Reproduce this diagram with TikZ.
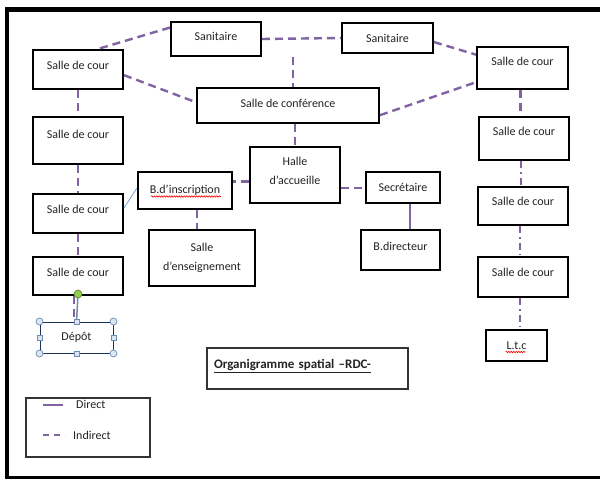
\documentclass[tikz,border=0pt]{standalone}
\usepackage{fontspec}
\setmainfont{Carlito}
\usetikzlibrary{decorations.pathmorphing}
\begin{document}
\begin{tikzpicture}[x=1pt,y=-1pt,
  salle/.style={draw=black, line width=2pt, inner sep=0pt, text=texte, font=\fontsize{12}{13}\selectfont},
  cadre/.style={draw=black!80, line width=1.2pt, inner sep=0pt, text=texte, font=\fontsize{12}{13}\selectfont},
  deux/.style={align=center, font=\fontsize{12}{19.5}\selectfont},
  indirect/.style={draw=violet, line width=2.4pt, dash pattern=on 8pt off 5pt},
  indirectpt/.style={draw=violet, line width=2pt, dash pattern=on 7pt off 4pt on 1.5pt off 4pt},
  direct/.style={draw=violet, line width=2pt},
  squiggle/.style={draw=red, line width=0.6pt, decorate, decoration={snake, amplitude=0.7pt, segment length=2.5pt}},
  rond/.style={draw=poignee, fill=poigneefond, line width=0.7pt},
  carre/.style={draw=poignee, fill=poigneefond, line width=0.7pt, minimum size=5pt, inner sep=0pt}]
\definecolor{violet}{RGB}{128,100,162}
\definecolor{texte}{RGB}{35,35,35}
\definecolor{lien}{RGB}{120,160,210}
\definecolor{poignee}{RGB}{110,140,180}
\definecolor{poigneefond}{RGB}{220,230,242}
\definecolor{marine}{RGB}{30,50,90}
\definecolor{vert}{RGB}{146,208,80}
\useasboundingbox (0,0) rectangle (600,479);
\fill[white] (0,0) rectangle (600,479);
% cadre ouvert a droite
\draw[line width=4.5pt, line cap=rect] (600,9.5) -- (7,9.5) -- (7,478.5) -- (600,478.5);
% colonne gauche
\node[salle, minimum width=90pt, minimum height=39pt, text depth=9pt] (scL1) at (78,69.5) {Salle de cour};
\node[salle, minimum width=90pt, minimum height=47pt, text depth=13pt] (scL2) at (78,140.5) {Salle de cour};
\node[salle, minimum width=90pt, minimum height=39pt, text depth=9pt] (scL3) at (78,213.5) {Salle de cour};
\node[salle, minimum width=90pt, minimum height=38pt, text depth=8pt] (scL4) at (78,276) {Salle de cour};
\node[salle, draw=marine, line width=1pt, minimum width=73pt, minimum height=31pt] (depot) at (76.5,337.5) {Dépôt};
% centre
\node[salle, minimum width=90pt, minimum height=34pt, text depth=6pt] (san1) at (216,39) {Sanitaire};
\node[salle, minimum width=91pt, minimum height=30pt] (san2) at (387.5,38) {Sanitaire};
\node[salle, minimum width=182pt, minimum height=35pt, text depth=5pt] (conf) at (288,105.5) {Salle de conférence};
\node[salle, deux, minimum width=90pt, minimum height=56pt, text depth=8pt] (halle) at (295,175) {Halle\\d’accueille};
\node[salle, minimum width=94pt, minimum height=37pt] (binsc) at (185,190.5) {B.d’inscription};
\node[salle, deux, minimum width=106pt, minimum height=56pt] (ens) at (202,258) {Salle\\d’enseignement};
\node[salle, minimum width=74pt, minimum height=31pt] (sec) at (403,187.5) {Secrétaire};
\node[salle, minimum width=79pt, minimum height=40pt, text depth=8pt] (bdir) at (400.5,250) {B.directeur};
% colonne droite
\node[salle, minimum width=91pt, minimum height=42pt, text depth=14pt] (scR1) at (522.5,68) {Salle de cour};
\node[salle, minimum width=90pt, minimum height=43pt, text depth=15pt] (scR2) at (524,138.5) {Salle de cour};
\node[salle, minimum width=90pt, minimum height=38pt, text depth=10pt] (scR3) at (523,206) {Salle de cour};
\node[salle, minimum width=90pt, minimum height=40pt, text depth=10pt] (scR4) at (523,277) {Salle de cour};
\node[salle, minimum width=61pt, minimum height=31pt] (ltc) at (516.5,345.5) {L.t.c};
% titre et legende
\node[cadre, font=\fontsize{13}{14}\selectfont, minimum width=201pt, minimum height=41pt, text width=187pt, align=left, text depth=9pt] (titre) at (307.5,368.5) {\textbf{\underline{Organigramme spatial –RDC-}}};
\node[cadre, minimum width=124pt, minimum height=59pt] (legende) at (88,427.5) {};
\node[text=texte, font=\fontsize{12}{13}\selectfont, anchor=west, inner sep=0pt] (ldirect) at (76,404) {Direct};
\node[text=texte, font=\fontsize{12}{13}\selectfont, anchor=west, inner sep=0pt] (lindirect) at (73,435) {Indirect};
\draw[direct] (43,405) -- (63,405);
\draw[indirect, dash pattern=on 6pt off 5pt] (43,435) -- (65,435);
% liaisons
\coordinate (cv) at (293,57);
\draw[indirect] (san1.166) -- (scL1.46);
\draw[indirect] (san1.east) -- (san2.west);
\draw[indirect] (cv) -- (cv |- conf.north);
\draw[indirect] (scL1.-7) -- (conf.178);
\draw[indirect] (san2.-5) -- (scR1.164);
\draw[indirect] (conf.-6) -- (scR1.-163);
\draw[indirect] (scL1.south) -- (scL2.north);
\draw[indirect] (scL2.south) -- (scL3.north);
\draw[indirect] (scL3.south) -- (scL4.north);
\draw[indirect] ([xshift=-4pt]scL4.south) -- ([xshift=-4pt]scL4.south |- depot.north);
\draw[indirect] (halle.north |- conf.south) -- (halle.north);
\draw[indirect] (halle.188) -- (halle.188 -| binsc.east);
\draw[indirect] (halle.-16) -- (halle.-16 -| sec.west);
\draw[indirect] ([xshift=12pt]binsc.south) -- ([xshift=12pt]binsc.south |- ens.north);
\draw[direct] ([xshift=7pt]sec.south) -- ([xshift=7pt]sec.south |- bdir.north);
\draw[lien, line width=0.8pt] (scL3.7) -- (binsc.177);
\draw[indirect] ([xshift=-2pt]scR1.south) -- ([xshift=-2pt]scR1.south |- scR2.north);
\draw[indirectpt] ([xshift=-3pt]scR2.south) -- ([xshift=-3pt]scR2.south |- scR3.north);
\draw[indirectpt] ([xshift=-3pt]scR3.south) -- ([xshift=-3pt]scR3.south |- scR4.north);
\draw[indirectpt] ([xshift=-3pt]scR4.south) -- ([xshift=-3pt]scR4.south |- ltc.north);
% fautes soulignees
\draw[squiggle] ([xshift=-34pt,yshift=-6pt]binsc.center) -- ++(70pt,0pt);
\draw[squiggle] ([xshift=-11pt,yshift=-6.5pt]ltc.center) -- ++(20pt,0pt);
% poignees de selection
\coordinate (rot) at (78,294);
\draw[poignee!70!gray, line width=1.5pt] (rot) -- (depot.north);
\foreach \c in {north west, north east, south west, south east}
  \draw[rond] (depot.\c) circle (3.5pt);
\foreach \c in {north, south, east, west}
  \node[carre] at (depot.\c) {};
\draw[fill=vert, draw=vert!60!black, line width=0.6pt] (rot) circle (4pt);
\end{tikzpicture}
\end{document}
